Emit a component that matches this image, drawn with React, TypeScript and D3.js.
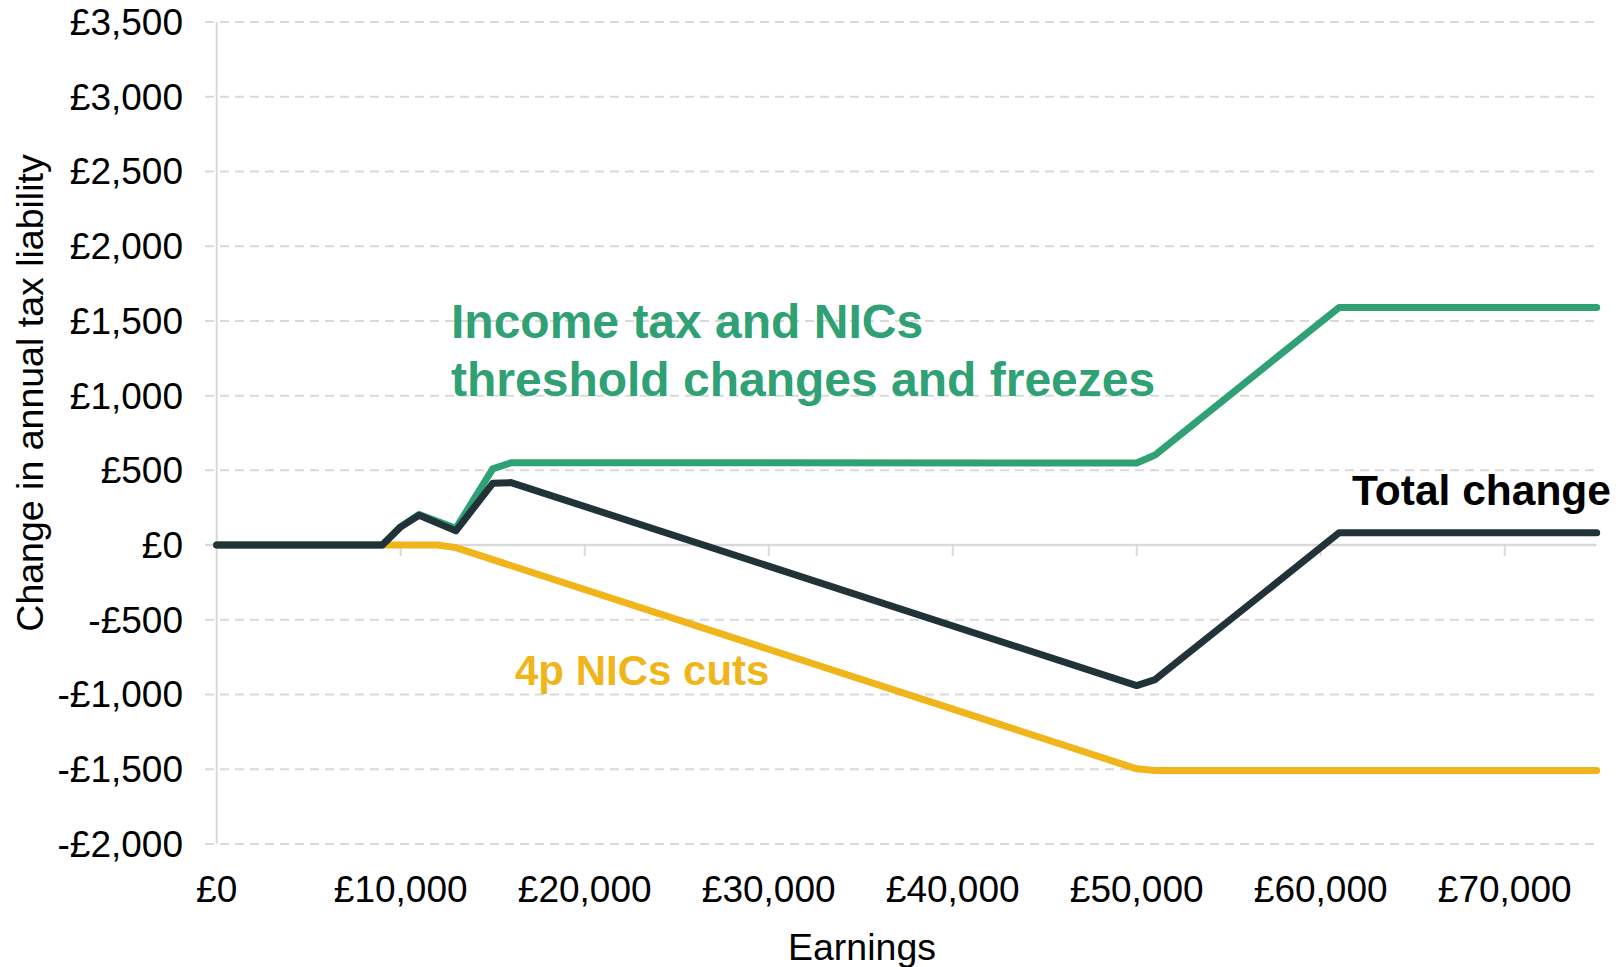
import React from "react";
import * as d3 from "d3";

const yTicks = [-2000, -1500, -1000, -500, 0, 500, 1000, 1500, 2000, 2500, 3000, 3500];
const xTicks = [0, 10000, 20000, 30000, 40000, 50000, 60000, 70000];

const thresholdEarnings = [0, 9000, 10000, 11000, 13000, 15000, 16000, 50000, 51000, 61000, 75000];
const thresholdValues = [0, 0, 122, 205, 112, 510, 551, 549, 603, 1590, 1590];

const totalEarnings = [0, 9000, 10000, 11000, 13000, 15000, 16000, 50000, 51000, 61000, 75000];
const totalValues = [0, 0, 122, 200, 95, 413, 418, -940, -900, 82, 82];

const nicsEarnings = [0, 12000, 13000, 50000, 51000, 75000];
const nicsValues = [0, 0, -17, -1497, -1508, -1508];

const GREEN = "#2fa174";
const YELLOW = "#f0b51b";
const DARK = "#213338";
const GRID = "#d9d9d9";
const FONT = "'Liberation Sans', Arial, sans-serif";

const fmt = d3.format(",");
const money = (v: number) => (v < 0 ? "-£" + fmt(-v) : "£" + fmt(v));

export default function App() {
  const left = 216.7, right = 1596.7, top = 22, bottom = 844;
  const x = d3.scaleLinear().domain([0, 75000]).range([left, right]);
  const y = d3.scaleLinear().domain([-2000, 3500]).range([bottom, top]);

  const mk = (xs: number[], ys: number[]) =>
    d3.line<number>().x((_, i) => x(xs[i])).y((v) => y(v))(ys) || "";

  const series = [
    { d: mk(nicsEarnings, nicsValues), c: YELLOW },
    { d: mk(thresholdEarnings, thresholdValues), c: GREEN },
    { d: mk(totalEarnings, totalValues), c: DARK },
  ];

  return (
    <svg width={1623} height={967} style={{ position: "absolute", left: 0, top: 0, display: "block", background: "#fff" }} fontFamily={FONT}>
      {yTicks.map((t) =>
        t === 0 ? null : (
          <line key={"g" + t} x1={205} x2={right} y1={y(t)} y2={y(t)} stroke={GRID} strokeWidth={2} strokeDasharray="9,6" />
        )
      )}
      <line x1={left} x2={left} y1={top} y2={bottom} stroke={GRID} strokeWidth={2} />
      <line x1={205} x2={right} y1={y(0)} y2={y(0)} stroke={GRID} strokeWidth={2.5} />
      {xTicks.filter((t) => t > 0).map((t) => (
        <line key={"xt" + t} x1={x(t)} x2={x(t)} y1={y(0)} y2={y(0) + 11} stroke={GRID} strokeWidth={2} />
      ))}
      {yTicks.map((t) => (
        <text key={"yl" + t} x={183} y={y(t)} dy="0.35em" textAnchor="end" fontSize={37} fill="#000">
          {money(t)}
        </text>
      ))}
      {xTicks.map((t) => (
        <text key={"xl" + t} x={x(t)} y={902} textAnchor="middle" fontSize={37} fill="#000">
          {money(t)}
        </text>
      ))}
      {series.map((s, i) => (
        <path key={i} d={s.d} fill="none" stroke={s.c} strokeWidth={7} strokeLinejoin="round" strokeLinecap="round" />
      ))}
      <text x={862} y={960} textAnchor="middle" fontSize={37.5} fill="#000">Earnings</text>
      <text transform="translate(43,393) rotate(-90)" textAnchor="middle" fontSize={37.5} fill="#000">
        Change in annual tax liability
      </text>
      <text x={451} y={338} fontSize={48} fontWeight="bold" fill={GREEN}>Income tax and NICs</text>
      <text x={451} y={396} fontSize={48} fontWeight="bold" fill={GREEN}>threshold changes and freezes</text>
      <text x={515} y={685} fontSize={42} fontWeight="bold" fill={YELLOW}>4p NICs cuts</text>
      <text x={1352} y={505} fontSize={42.5} fontWeight="bold" fill="#000">Total change</text>
    </svg>
  );
}
